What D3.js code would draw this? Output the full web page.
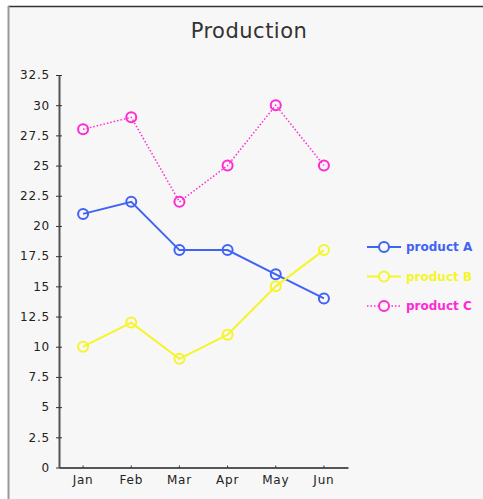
<!DOCTYPE html>
<html>
<head>
<meta charset="utf-8">
<script src="https://cdn.jsdelivr.net/npm/d3@7"></script>
<style>
  body { margin: 0; background: #ffffff; }
  svg { display: block; }
  text { font-family: "DejaVu Sans", Verdana, sans-serif; }
</style>
</head>
<body>
<div id="chart"></div>
<script>
// chart data
var months   = ['Jan', 'Feb', 'Mar', 'Apr', 'May', 'Jun'];
var productA = [21, 22, 18, 18, 16, 14];
var productB = [10, 12, 9, 11, 15, 18];
var productC = [28, 29, 22, 25, 30, 25];
var yTicks   = [0, 2.5, 5, 7.5, 10, 12.5, 15, 17.5, 20, 22.5, 25, 27.5, 30, 32.5];

var series = [
  { name: 'product A', values: productA, color: '#3f63f5', dash: null },
  { name: 'product B', values: productB, color: '#f5f52a', dash: null },
  { name: 'product C', values: productC, color: '#ff2ad4', dash: '1.5,2' }
];

var width = 483, height = 499;
var margin = { left: 59, right: 135, top: 75, bottom: 31.5 };

var svg = d3.select('#chart').append('svg')
            .attr('width', width)
            .attr('height', height);

// panel background and frame
svg.append('rect')
   .attr('x', 9).attr('y', 6)
   .attr('width', width - 9).attr('height', height - 6)
   .attr('fill', '#f7f7f7');
svg.append('line')
   .attr('x1', 8).attr('x2', width).attr('y1', 6.5).attr('y2', 6.5)
   .attr('stroke', '#333').attr('stroke-width', 1.5);
svg.append('line')
   .attr('x1', 8.5).attr('x2', 8.5).attr('y1', 6).attr('y2', height)
   .attr('stroke', '#999').attr('stroke-width', 2);

svg.append('text')
   .attr('x', 249).attr('y', 38)
   .attr('text-anchor', 'middle')
   .attr('font-size', 21)
   .attr('letter-spacing', 0.5)
   .attr('fill', '#333')
   .text('Production');

var x = d3.scaleBand()
          .domain(months)
          .range([margin.left, width - margin.right]);

var y = d3.scaleLinear()
          .domain([0, 32.5])
          .range([height - margin.bottom, margin.top]);

var yAxis = svg.append('g')
               .attr('transform', 'translate(' + margin.left + ',0)')
               .call(d3.axisLeft(y).tickValues(yTicks).tickSize(3).tickSizeOuter(0)
                       .tickPadding(6)
                       .tickFormat(function(d) { return String(d); }));
yAxis.selectAll('.tick line').attr('x2', 3).attr('x1', -3);

var xAxis = svg.append('g')
               .attr('transform', 'translate(0,' + (height - margin.bottom) + ')')
               .call(d3.axisBottom(x).tickSize(2).tickSizeOuter(0));
xAxis.selectAll('.tick line').attr('y1', -2).attr('y2', 0);
xAxis.selectAll('.tick text').attr('dy', '0.95em');

svg.selectAll('.domain').attr('stroke', '#555').attr('stroke-width', 2);
svg.selectAll('.tick line').attr('stroke', '#333');
svg.selectAll('.tick text').attr('font-size', 12).attr('letter-spacing', 0.8).attr('fill', '#222');

var line = d3.line()
             .x(function(d, i) { return x(months[i]) + x.bandwidth() / 2; })
             .y(function(d) { return y(d); });

series.forEach(function(s) {
  var g = svg.append('g');
  g.append('path')
   .attr('d', line(s.values))
   .attr('fill', 'none')
   .attr('stroke', s.color)
   .attr('stroke-width', s.dash ? 1.5 : 2)
   .attr('stroke-dasharray', s.dash);
  g.selectAll('circle')
   .data(s.values)
   .enter()
   .append('circle')
   .attr('cx', function(d, i) { return x(months[i]) + x.bandwidth() / 2; })
   .attr('cy', function(d) { return y(d); })
   .attr('r', 5)
   .attr('fill', 'none')
   .attr('stroke', s.color)
   .attr('stroke-width', 2);
});

// legend
var legend = svg.append('g').attr('transform', 'translate(367,247)');
series.forEach(function(s, i) {
  var row = legend.append('g').attr('transform', 'translate(0,' + (i * 29.5) + ')');
  row.append('line')
     .attr('x1', 0).attr('x2', 34)
     .attr('stroke', s.color)
     .attr('stroke-width', s.dash ? 1.5 : 2)
     .attr('stroke-dasharray', s.dash);
  row.append('circle')
     .attr('cx', 17).attr('r', 5)
     .attr('fill', '#f7f7f7')
     .attr('stroke', s.color).attr('stroke-width', 2);
  row.append('text')
     .attr('x', 39).attr('dy', '0.35em')
     .attr('font-size', 12).attr('font-weight', 'bold')
     .attr('fill', s.color)
     .text(s.name);
});
</script>
</body>
</html>
